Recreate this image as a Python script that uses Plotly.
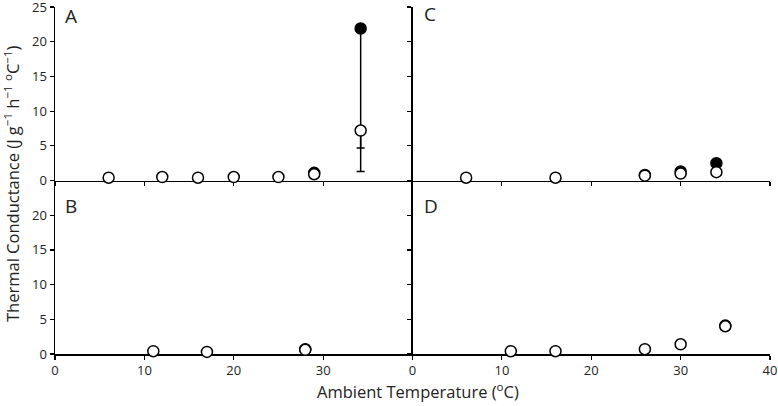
import plotly.graph_objects as go

# Panel A
a_open_x = [6, 12, 16, 20, 25, 29, 34.2]
a_open_y = [0.4, 0.5, 0.4, 0.5, 0.5, 0.9, 7.2]
a_open_err = [0, 0, 0, 0, 0, 0, 5.9]
a_fill_x = [29, 34.2]
a_fill_y = [1.1, 21.9]
a_fill_err = [0, 17.2]

# Panel B
b_open_x = [11, 17, 28]
b_open_y = [0.4, 0.3, 0.6]
b_fill_x = [28]
b_fill_y = [0.7]

# Panel C
c_open_x = [6, 16, 26, 30, 34]
c_open_y = [0.4, 0.4, 0.7, 1.0, 1.2]
c_fill_x = [26, 30, 34]
c_fill_y = [0.8, 1.3, 2.5]

# Panel D
d_open_x = [11, 16, 26, 30, 35]
d_open_y = [0.4, 0.4, 0.7, 1.4, 4.0]
d_fill_x = [35]
d_fill_y = [4.1]

x_ticks = [0, 10, 20, 30, 40]
y_ticks = [0, 5, 10, 15, 20, 25]

fig = go.Figure()

def add(xs, ys, filled, xa, ya, err=None):
    kw = {}
    if err is not None:
        kw["error_y"] = dict(type="data", symmetric=False, array=[0] * len(err),
                             arrayminus=err, color="black", thickness=1.5, width=4)
    fig.add_trace(go.Scatter(
        x=xs, y=ys, mode="markers", xaxis=xa, yaxis=ya, cliponaxis=False,
        marker=dict(size=11, color="black" if filled else "white",
                    line=dict(color="black", width=1.5)),
        showlegend=False, hoverinfo="skip", **kw))

add(a_fill_x, a_fill_y, True, "x", "y", a_fill_err)
add(a_open_x, a_open_y, False, "x", "y", a_open_err)
add(b_fill_x, b_fill_y, True, "x2", "y2")
add(b_open_x, b_open_y, False, "x2", "y2")
add(c_fill_x, c_fill_y, True, "x3", "y3")
add(c_open_x, c_open_y, False, "x3", "y3")
add(d_fill_x, d_fill_y, True, "x4", "y4")
add(d_open_x, d_open_y, False, "x4", "y4")

tickfont = dict(family="Open Sans", size=13, color="#222")
common_x = dict(range=[0, 40], showgrid=False, zeroline=False, showline=True,
                linecolor="black", linewidth=1.5, ticks="outside", ticklen=4,
                tickwidth=1.2, tickcolor="black", tickvals=x_ticks,
                layer="below traces", tickfont=tickfont, fixedrange=True,
                automargin=False, ticklabeloverflow="allow")
common_y = dict(range=[0, 25], showgrid=False, zeroline=False, showline=True,
                linecolor="black", linewidth=1.5, ticks="outside", ticklen=4,
                tickwidth=1.2, tickcolor="black", tickvals=y_ticks,
                layer="below traces", tickfont=tickfont, fixedrange=True,
                automargin=False, ticklabeloverflow="allow")

xl = [0, 0.5]
xr = [0.5, 1]
yt = [0.5, 1]
yb = [0, 0.5]

fig.update_layout(
    template="none",
    xaxis=dict(common_x, domain=xl, anchor="y", showticklabels=False),
    yaxis=dict(common_y, domain=yt, anchor="x", ticktext=["0", "5", "10", "15", "20", "25"]),
    xaxis2=dict(common_x, domain=xl, anchor="y2", ticktext=["0", "10", "20", "30", ""]),
    yaxis2=dict(common_y, domain=yb, anchor="x2", ticktext=["0", "5", "10", "15", "20", ""]),
    xaxis3=dict(common_x, domain=xr, anchor="y3", showticklabels=False),
    yaxis3=dict(common_y, domain=yt, anchor="x3", showticklabels=False),
    xaxis4=dict(common_x, domain=xr, anchor="y4", ticktext=["0", "10", "20", "30", "40"]),
    yaxis4=dict(common_y, domain=yb, anchor="x4", showticklabels=False),
    width=778, height=406,
    margin=dict(l=55, r=8, t=7, b=52),
    paper_bgcolor="white", plot_bgcolor="white",
    font=dict(family="Open Sans", color="#222"),
    hovermode=False,
)

W, H = 715.0, 347.0
def px(x):
    return (x - 55) / W
def py(y):
    return (354 - y) / H

annots = [
    dict(text="A", x=px(63), y=py(1), xanchor="left", yanchor="top"),
    dict(text="B", x=px(63), y=py(191), xanchor="left", yanchor="top"),
    dict(text="C", x=px(422), y=py(-1), xanchor="left", yanchor="top"),
    dict(text="D", x=px(422), y=py(191), xanchor="left", yanchor="top"),
]
for a in annots:
    fig.add_annotation(xref="paper", yref="paper", showarrow=False,
                       font=dict(family="Open Sans", size=19, color="#222"), **a)

fig.add_annotation(xref="paper", yref="paper", showarrow=False,
                   text="Thermal Conductance (J g<sup>\u22121</sup> h<sup>\u22121</sup> <sup>o</sup>C<sup>\u22121</sup>)",
                   textangle=-90, x=px(12), y=py(184), xanchor="center", yanchor="middle",
                   font=dict(family="Open Sans", size=16.5, color="#222"))
fig.add_annotation(xref="paper", yref="paper", showarrow=False,
                   text="Ambient Temperature (<sup>o</sup>C)",
                   x=px(418), y=py(391), xanchor="center", yanchor="middle",
                   font=dict(family="Open Sans", size=16.5, color="#222"))

fig.write_html("out.html", config={"displayModeBar": False, "staticPlot": True},
               post_script="document.body.style.margin='0px';document.body.style.overflow='hidden';")
